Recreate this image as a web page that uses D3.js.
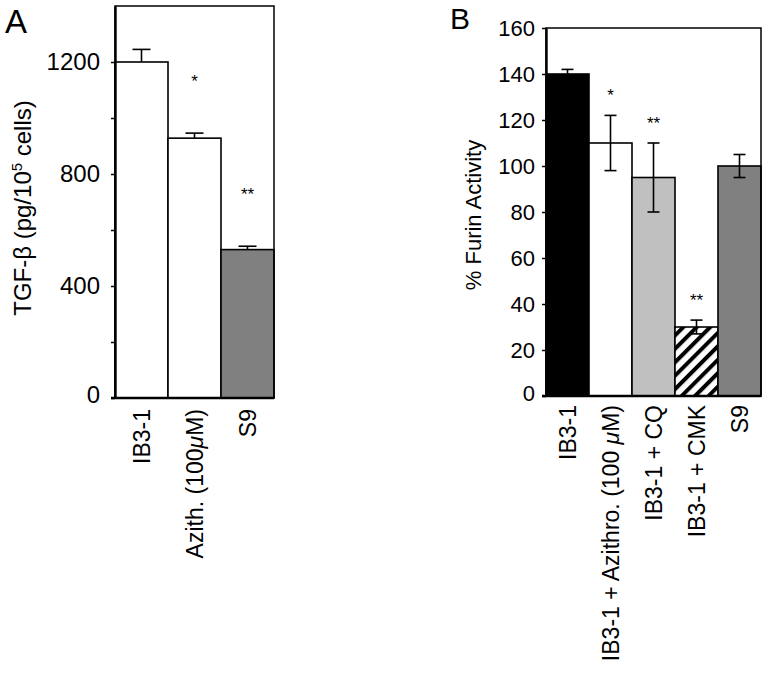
<!DOCTYPE html>
<html><head><meta charset="utf-8">
<script src="https://cdn.jsdelivr.net/npm/d3@7"></script>
<style>body{margin:0;background:#fff}svg{display:block;font-family:"Liberation Sans",Arial,Helvetica,sans-serif}</style>
</head><body>
<svg id="c" width="768" height="673"></svg>
<script>
// Panel A data
const catsA = ["IB3-1", "Azith. (100μM)", "S9"];
const valsA = [1200, 928, 530];
const errA = [45, 18, 12];
const starsA = ["", "*", "**"];
const fillsA = ["#ffffff", "#ffffff", "#808080"];
const ticksA = [0, 400, 800, 1200];
const minorTicksA = [200, 600, 1000];

// Panel B data
const catsB = ["IB3-1", "IB3-1 + Azithro. (100 μM)", "IB3-1 + CQ", "IB3-1 + CMK", "S9"];
const valsB = [140, 110, 95, 30, 100];
const errB = [2, 12, 15, 3, 5];
const starsB = ["", "*", "**", "**", ""];
const fillsB = ["#000000", "#ffffff", "#c0c0c0", "url(#hatch)", "#808080"];
const ticksB = [0, 20, 40, 60, 80, 100, 120, 140, 160];

const svg = d3.select("#c");
const defs = svg.append("defs");
const pat = defs.append("pattern").attr("id", "hatch").attr("patternUnits", "userSpaceOnUse")
  .attr("width", 9.5).attr("height", 9.5).attr("patternTransform", "rotate(45)");
pat.append("rect").attr("width", 9.5).attr("height", 9.5).attr("fill", "#fff");
pat.append("rect").attr("width", 4).attr("height", 9.5).attr("fill", "#000");

function panel(cfg) {
  const g = svg.append("g");
  const x = d3.scaleBand().domain(cfg.cats).range([cfg.x0, cfg.x1]).padding(0);
  const y = d3.scaleLinear().domain([0, cfg.ymax]).range([cfg.y0, cfg.y1]);

  g.selectAll("rect.bar").data(cfg.cats).enter().append("rect")
    .attr("x", d => x(d)).attr("width", x.bandwidth())
    .attr("y", (d, i) => y(cfg.vals[i])).attr("height", (d, i) => y(0) - y(cfg.vals[i]))
    .attr("fill", (d, i) => cfg.fills[i]).attr("stroke", "#000").attr("stroke-width", 1.6);

  cfg.cats.forEach((c, i) => {
    const cx = x(c) + x.bandwidth() / 2;
    const top = cfg.vals[i] + cfg.errs[i];
    const bot = cfg.twoSided ? cfg.vals[i] - cfg.errs[i] : cfg.vals[i];
    g.append("line").attr("x1", cx).attr("x2", cx).attr("y1", y(top)).attr("y2", y(bot))
      .attr("stroke", "#000").attr("stroke-width", 1.6);
    g.append("line").attr("x1", cx - cfg.cap).attr("x2", cx + cfg.cap).attr("y1", y(top)).attr("y2", y(top))
      .attr("stroke", "#000").attr("stroke-width", 1.6);
    if (cfg.twoSided) {
      g.append("line").attr("x1", cx - cfg.cap).attr("x2", cx + cfg.cap).attr("y1", y(bot)).attr("y2", y(bot))
        .attr("stroke", "#000").attr("stroke-width", 1.6);
    }
    if (cfg.stars[i]) {
      g.append("text").attr("x", cx).attr("y", y(top) - cfg.starOff + 10)
        .attr("text-anchor", "middle").attr("font-size", 17).text(cfg.stars[i]);
    }
  });

  g.append("rect").attr("x", cfg.x0).attr("y", cfg.y1).attr("width", cfg.x1 - cfg.x0).attr("height", cfg.y0 - cfg.y1)
    .attr("fill", "none").attr("stroke", "#000").attr("stroke-width", 1.5);
  const ax = g.append("g").attr("transform", `translate(${cfg.x0},0)`)
    .call(d3.axisLeft(y).tickValues(cfg.ticks).tickFormat(d3.format("d")).tickSize(4).tickPadding(cfg.tickPad).tickSizeOuter(0));
  ax.select(".domain").attr("stroke-width", 2.4);
  ax.selectAll(".tick line").attr("stroke-width", 1.5);
  ax.selectAll(".tick text").attr("font-size", cfg.tickFs).attr("fill", "#000")
    .attr("font-family", "Liberation Sans, Arial, sans-serif");
  ax.selectAll(".tick text").filter(d => d === 0).attr("dy", "0.2em");
  if (cfg.minor) {
    g.append("g").attr("transform", `translate(${cfg.x0},0)`)
      .call(d3.axisLeft(y).tickValues(cfg.minor).tickSize(4).tickFormat(""))
      .call(s => s.select(".domain").remove())
      .selectAll(".tick line").attr("stroke-width", 1.5);
  }
  g.append("line").attr("x1", cfg.x0 - 4).attr("x2", cfg.x1).attr("y1", cfg.y0).attr("y2", cfg.y0)
    .attr("stroke", "#000").attr("stroke-width", 2.4);

  cfg.cats.forEach((c, i) => {
    const cx = x(c) + x.bandwidth() / 2 + cfg.xFs * 0.36;
    const t = g.append("text").attr("transform", `translate(${cx},${cfg.y0 + cfg.xGap}) rotate(-90)`)
      .attr("text-anchor", "end").attr("font-size", cfg.xFs);
    const parts = c.split("μ");
    if (parts.length > 1) {
      t.append("tspan").text(parts[0]);
      t.append("tspan").attr("font-style", "italic").text("μ");
      t.append("tspan").text(parts[1]);
    } else t.text(c);
  });
  return {x, y, g};
}

panel({cats: catsA, vals: valsA, errs: errA, stars: starsA, fills: fillsA, ticks: ticksA, minor: minorTicksA,
  x0: 115, x1: 274, y0: 398, y1: 6, ymax: 1400, cap: 9, twoSided: false, starOff: 56,
  tickFs: 24, tickPad: 11, xFs: 23, xGap: 11});

panel({cats: catsB, vals: valsB, errs: errB, stars: starsB, fills: fillsB, ticks: ticksB, minor: null,
  x0: 546, x1: 761, y0: 396, y1: 28, ymax: 160, cap: 6, twoSided: true, starOff: 24,
  tickFs: 22, tickPad: 7, xFs: 23, xGap: 9});

svg.append("text").attr("x", 5).attr("y", 33).attr("font-size", 33).text("A");
svg.append("text").attr("x", 450).attr("y", 29).attr("font-size", 30).text("B");

const tA = svg.append("text").attr("transform", "translate(31,208) rotate(-90)")
  .attr("text-anchor", "middle").attr("font-size", 24);
tA.append("tspan").text("TGF-β (pg/10");
tA.append("tspan").attr("font-size", 15).attr("dy", -9).text("5");
tA.append("tspan").attr("dy", 9).text(" cells)");

svg.append("text").attr("transform", "translate(481,215) rotate(-90)")
  .attr("text-anchor", "middle").attr("font-size", 22).text("% Furin Activity");
</script>
</body></html>
